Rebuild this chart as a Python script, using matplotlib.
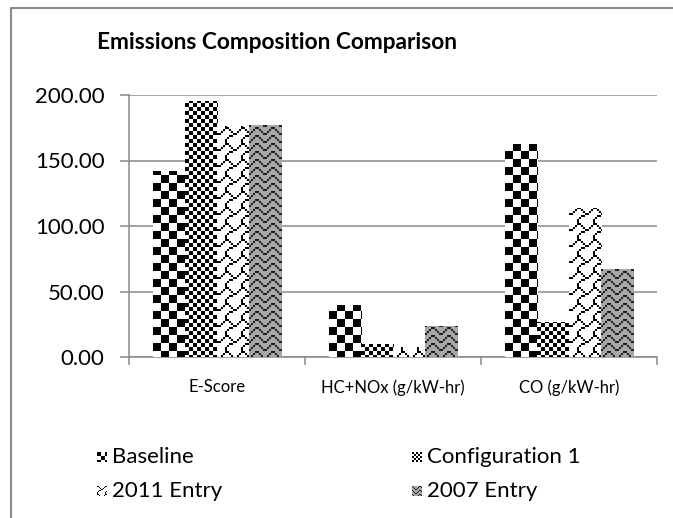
import numpy as np
import matplotlib
matplotlib.use("Agg")
import matplotlib.pyplot as plt
from matplotlib.lines import Line2D

# emissions data per category
categories = ["E-Score", "HC+NOx (g/kW-hr)", "CO (g/kW-hr)"]
series = ["Baseline", "Configuration 1", "2011 Entry", "2007 Entry"]
baseline = [142.0, 40.0, 162.5]
config1 = [195.5, 10.0, 26.5]
entry2011 = [176.0, 7.5, 114.0]
entry2007 = [177.0, 23.5, 67.5]
values = [baseline, config1, entry2011, entry2007]
yticks = [0, 50, 100, 150, 200]

plt.rcParams['font.family'] = ['Lato', 'DejaVu Sans']

W, H = 673, 518
fig = plt.figure(figsize=(W / 100, H / 100), dpi=100)
fig.patch.set_facecolor("white")

# plot area in pixels
ax_l, ax_w, ax_b, ax_h = 129, 528, 161, 262
ax = fig.add_axes([ax_l / W, ax_b / H, ax_w / W, ax_h / H])

grey = "#898989"


# ---- fill patterns (8x8 bit tiles like office pattern fills) ----
def bits_tile(rows, scale, mirror=False):
    t = np.zeros((8, 8), dtype=bool)
    for r, v in enumerate(rows):
        for c in range(8):
            b = c if mirror else 7 - c
            t[r, c] = (v >> b) & 1
    return np.kron(t, np.ones((scale, scale), dtype=bool))


def make_texture(kind, h, w, scale=2):
    rr, cc = np.indices((h, w))
    n = 8 * scale
    if kind == 0:
        on = ((rr // (4 * scale) + cc // (4 * scale)) % 2) == 0
        fg, bg = (0, 0, 0), (255, 255, 255)
    elif kind == 1:
        on = ((rr // (2 * scale) + cc // (2 * scale)) % 2) == 0
        fg, bg = (0, 0, 0), (255, 255, 255)
    elif kind == 2:
        tile = bits_tile([0x03, 0x84, 0x48, 0x30, 0x0c, 0x02, 0x01, 0x01], scale, mirror=True)
        on = tile[rr % n, cc % n]
        fg, bg = (0, 0, 0), (255, 255, 255)
    else:
        tile = bits_tile([0x81, 0x42, 0x24, 0x18, 0x81, 0x42, 0x24, 0x18], scale)
        on = tile[rr % n, cc % n]
        fg, bg = (30, 30, 30), (166, 166, 166)
    img = np.empty((h, w, 3), dtype=np.uint8)
    img[:] = bg
    img[on] = fg
    return img / 255.0


x = np.arange(len(categories))
bw = 1 / 5.5
for i, vals in enumerate(values):
    bars = ax.bar(x + (i - 1.5) * bw, vals, width=bw, facecolor="none",
                  edgecolor="none", zorder=2)
    tex = make_texture(i, ax_h, ax_w)
    for bar in bars:
        im = fig.figimage(tex, xo=ax_l, yo=ax_b, origin="upper", zorder=3)
        im.set_clip_path(bar)

ax.set_xlim(-0.5, 2.5)
ax.set_ylim(0, 200)
ax.set_yticks(yticks)
ax.set_yticklabels([f"{v:.2f}" for v in yticks], fontsize=16)
ax.yaxis.grid(True, color=grey, linewidth=1.1, zorder=0)
ax.set_axisbelow(True)

ax.set_xticks(x)
ax.set_xticklabels(categories, fontsize=12)
ax.set_xticks([-0.5, 0.5, 1.5, 2.5], minor=True)
ax.tick_params(axis="x", which="major", length=0, pad=16)
ax.tick_params(axis="x", which="minor", length=6, width=1.1, color=grey)
ax.tick_params(axis="y", length=6.5, width=1.1, color=grey, pad=11)

for side in ["top", "right"]:
    ax.spines[side].set_visible(False)
for side in ["left", "bottom"]:
    ax.spines[side].set_color(grey)
    ax.spines[side].set_linewidth(1.1)

fig.text(277 / W, 1 - 42 / H, "Emissions Composition Comparison",
         fontsize=16.3, fontweight="bold", ha="center", va="center")

# legend drawn as small pattern swatches plus labels
leg_pos = [(97, 457), (412, 457), (97, 491), (412, 491)]
for i, (lx, ly) in enumerate(leg_pos):
    fig.figimage(make_texture(i, 10, 10, scale=1), xo=lx, yo=H - ly - 5,
                 origin="upper", zorder=3)
    fig.text((lx + 15) / W, 1 - ly / H, series[i], fontsize=16,
             ha="left", va="center")

# chart frame
fig.add_artist(Line2D([11 / W, 11 / W, 1.0], [0.0, 1 - 8 / H, 1 - 8 / H],
                      transform=fig.transFigure, color=grey, linewidth=1.5))

fig.savefig("out.png", dpi=100)
